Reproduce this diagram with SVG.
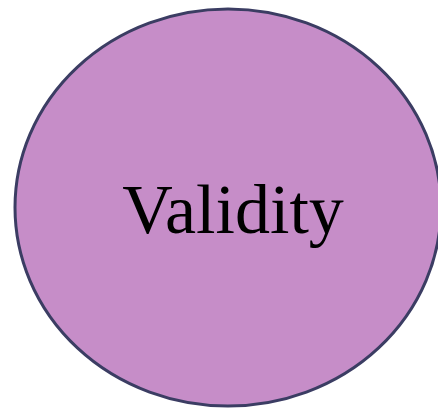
<svg xmlns="http://www.w3.org/2000/svg" width="438" height="408" viewBox="0 0 438 408">
<style>
.node{fill:#c68dc8;stroke:#3b3d63;stroke-width:3}
.lbl{font-family:"Liberation Serif","DejaVu Serif",serif;font-size:70px;fill:#000;text-anchor:middle}
</style>
<rect width="438" height="408" fill="#ffffff"/>
<g id="validity">
<ellipse class="node" cx="228" cy="207.5" rx="213" ry="198.5"/>
<text class="lbl" x="233" y="233">Validity</text>
</g>
<g id="connectors"/>
</svg>
